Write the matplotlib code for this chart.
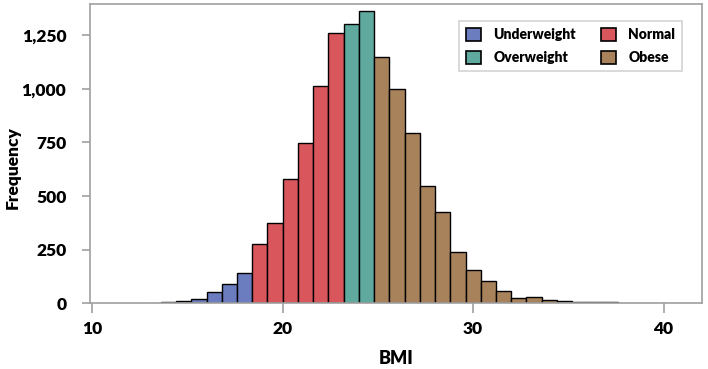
import numpy as np
import matplotlib.pyplot as plt
from matplotlib.patches import Patch
from matplotlib.ticker import FuncFormatter

plt.rcParams['font.family'] = ['Lato', 'DejaVu Sans']
plt.rcParams['font.weight'] = 'heavy'

# 1. Data (BMI bins of width 0.8, left edges)
bin_start = 12.8
bin_width = 0.8
freq = [2, 4, 11, 22, 53, 88, 143,            # underweight
        277, 376, 580, 749, 1013, 1258,       # normal
        1303, 1360,                           # overweight
        1148, 1001, 792, 545, 425, 238, 155, 105, 57, 23, 28,
        15, 10, 5, 4, 5, 2, 2, 2, 1, 1]       # obese
groups = ['Underweight', 'Normal', 'Overweight', 'Obese']
group_counts = [7, 6, 2, 21]
group_colors = ['#6b7cbf', '#d9575c', '#5fa99f', '#a8825a']

edges = bin_start + bin_width * np.arange(len(freq))
colors = np.repeat(group_colors, group_counts)
edge_cols = ['black' if v > 3 else '#9a9a9a' for v in freq]

# 2. Plot
fig = plt.figure(figsize=(7.08, 3.69), dpi=100)
ax = fig.add_axes([0.1271, 0.178, 0.8640, 0.8112])

ax.bar(edges, freq, width=bin_width, align='edge', color=colors,
       edgecolor=edge_cols, linewidth=1.0)

ax.set_xlim(9.88, 42.0)
ax.set_ylim(0, 1395)
ax.set_xticks([10, 20, 30, 40])
ax.set_yticks([0, 250, 500, 750, 1000, 1250])
ax.yaxis.set_major_formatter(FuncFormatter(lambda v, p: f'{int(v):,}'))

for s in ax.spines.values():
    s.set_color('#a0a0a0')
    s.set_linewidth(1.2)
ax.tick_params(axis='x', length=7, width=1.2, color='#a0a0a0', pad=6, labelsize=12.5)
ax.tick_params(axis='y', length=6, width=1.2, color='#a0a0a0', pad=11, labelsize=12.5)

ax.set_xlabel('BMI', fontsize=13, fontweight='heavy', va='center')
ax.xaxis.set_label_coords(0.5, -0.186)
ax.set_ylabel('Frequency', fontsize=12.5, fontweight='heavy', va='center')
ax.yaxis.set_label_coords(-0.126, 0.455)

handles = [Patch(facecolor=c, edgecolor='black', linewidth=1.2) for c in group_colors]
order = [0, 2, 1, 3]
leg = ax.legend([handles[i] for i in order], [groups[i] for i in order],
                ncol=2, loc='upper right', bbox_to_anchor=(0.968, 0.944),
                borderaxespad=0, fancybox=False, edgecolor='#c8c8c8',
                prop={'size': 10, 'weight': 'heavy'},
                handlelength=1.05, handleheight=1.05, handletextpad=0.9,
                columnspacing=1.8, labelspacing=0.75, borderpad=0.5)
leg.get_frame().set_linewidth(1.2)

# 3. Save
fig.savefig('out.png', dpi=100)
